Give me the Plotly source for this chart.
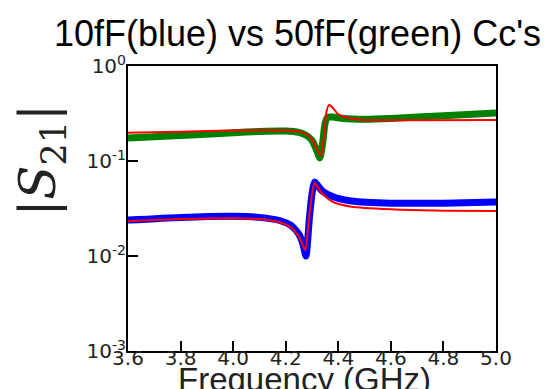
import plotly.graph_objects as go

# 50fF (green) measured
f_green = [3.60, 3.80, 4.00, 4.10, 4.20, 4.25, 4.28, 4.30, 4.315, 4.33, 4.34, 4.35, 4.36, 4.38, 4.42, 4.50, 4.60, 4.80, 5.00]
s_green = [0.175, 0.185, 0.198, 0.205, 0.207, 0.200, 0.185, 0.165, 0.135, 0.108, 0.15, 0.25, 0.29, 0.29, 0.28, 0.275, 0.28, 0.30, 0.32]

# fit to green
f_red_g = [3.60, 3.80, 4.00, 4.20, 4.25, 4.28, 4.30, 4.32, 4.335, 4.345, 4.355, 4.365, 4.38, 4.40, 4.45, 4.50, 4.70, 5.00]
s_red_g = [0.198, 0.203, 0.21, 0.21, 0.205, 0.19, 0.17, 0.13, 0.115, 0.18, 0.33, 0.39, 0.36, 0.31, 0.28, 0.27, 0.268, 0.27]

# 10fF (blue) measured
f_blue = [3.60, 3.80, 4.00, 4.10, 4.18, 4.22, 4.25, 4.265, 4.277, 4.29, 4.30, 4.31, 4.32, 4.34, 4.38, 4.45, 4.60, 4.80, 5.00]
s_blue = [0.0239, 0.0255, 0.0262, 0.0255, 0.0235, 0.021, 0.017, 0.0135, 0.0100, 0.025, 0.045, 0.060, 0.056, 0.048, 0.042, 0.038, 0.036, 0.036, 0.037]

# fit to blue
f_red_b = [3.60, 3.80, 4.00, 4.10, 4.18, 4.22, 4.25, 4.265, 4.275, 4.285, 4.30, 4.31, 4.32, 4.34, 4.38, 4.45, 4.60, 4.80, 5.00]
s_red_b = [0.0233, 0.0245, 0.025, 0.0245, 0.0225, 0.020, 0.016, 0.013, 0.0115, 0.020, 0.045, 0.059, 0.054, 0.045, 0.037, 0.033, 0.031, 0.030, 0.0298]

x_ticks = [3.6, 3.8, 4.0, 4.2, 4.4, 4.6, 4.8, 5.0]
x_tick_text = ["3.6", "3.8", "4.0", "4.2", "4.4", "4.6", "4.8", "5.0"]
y_ticks = [1, 0.1, 0.01, 0.001]
y_tick_text = ["10<sup>0</sup>", "10<sup>-1</sup>", "10<sup>-2</sup>", "10<sup>-3</sup>"]

fig = go.Figure()
fig.add_trace(go.Scatter(x=f_green, y=s_green, mode="lines",
                         line=dict(color="#008000", width=7, shape="spline", smoothing=0.6)))
fig.add_trace(go.Scatter(x=f_blue, y=s_blue, mode="lines",
                         line=dict(color="#0000ff", width=7, shape="spline", smoothing=0.6)))
fig.add_trace(go.Scatter(x=f_red_g, y=s_red_g, mode="lines",
                         line=dict(color="#ff0000", width=2, shape="spline", smoothing=0.6)))
fig.add_trace(go.Scatter(x=f_red_b, y=s_red_b, mode="lines",
                         line=dict(color="#ff0000", width=2, shape="spline", smoothing=0.6)))

fig.update_layout(
    template="none",
    width=558, height=389,
    margin=dict(l=120, r=70, t=58, b=46),
    paper_bgcolor="white", plot_bgcolor="white",
    showlegend=False,
    xaxis=dict(range=[3.6, 5.0], tickvals=x_ticks, ticktext=x_tick_text,
               ticks="inside", ticklen=10, tickwidth=2, tickcolor="black",
               ticklabelstandoff=-12, automargin=False,
               showline=True, linecolor="black", linewidth=2, mirror=True,
               showgrid=False, zeroline=False,
               tickfont=dict(family="DejaVu Sans", size=20, color="#222")),
    yaxis=dict(type="log", range=[-3, 0], tickvals=y_ticks, ticktext=y_tick_text,
               ticks="inside", ticklen=10, tickwidth=2, tickcolor="black",
               ticklabelstandoff=-4, automargin=False,
               showline=True, linecolor="black", linewidth=2, mirror=True,
               showgrid=False, zeroline=False,
               tickfont=dict(family="DejaVu Sans", size=20, color="#222")),
    annotations=[
        dict(text="10fF(blue) vs 50fF(green) Cc's", xref="paper", yref="paper",
             x=0.46, y=1.115, xanchor="center", yanchor="middle", showarrow=False,
             font=dict(family="Liberation Sans, Arial", size=36, color="black")),
        dict(text="Frequency (GHz)", xref="paper", yref="paper",
             x=0.48, y=-0.1, xanchor="center", yanchor="middle", showarrow=False,
             font=dict(family="Liberation Sans, Arial", size=33, color="#222")),
        dict(text="|<i>S</i><sub>21</sub>|", xref="paper", yref="paper",
             x=-0.235, y=0.67, xanchor="center", yanchor="middle", showarrow=False,
             textangle=-90,
             font=dict(family="DejaVu Serif", size=50, color="#222")),
    ],
)

fig.write_html("out.html")
